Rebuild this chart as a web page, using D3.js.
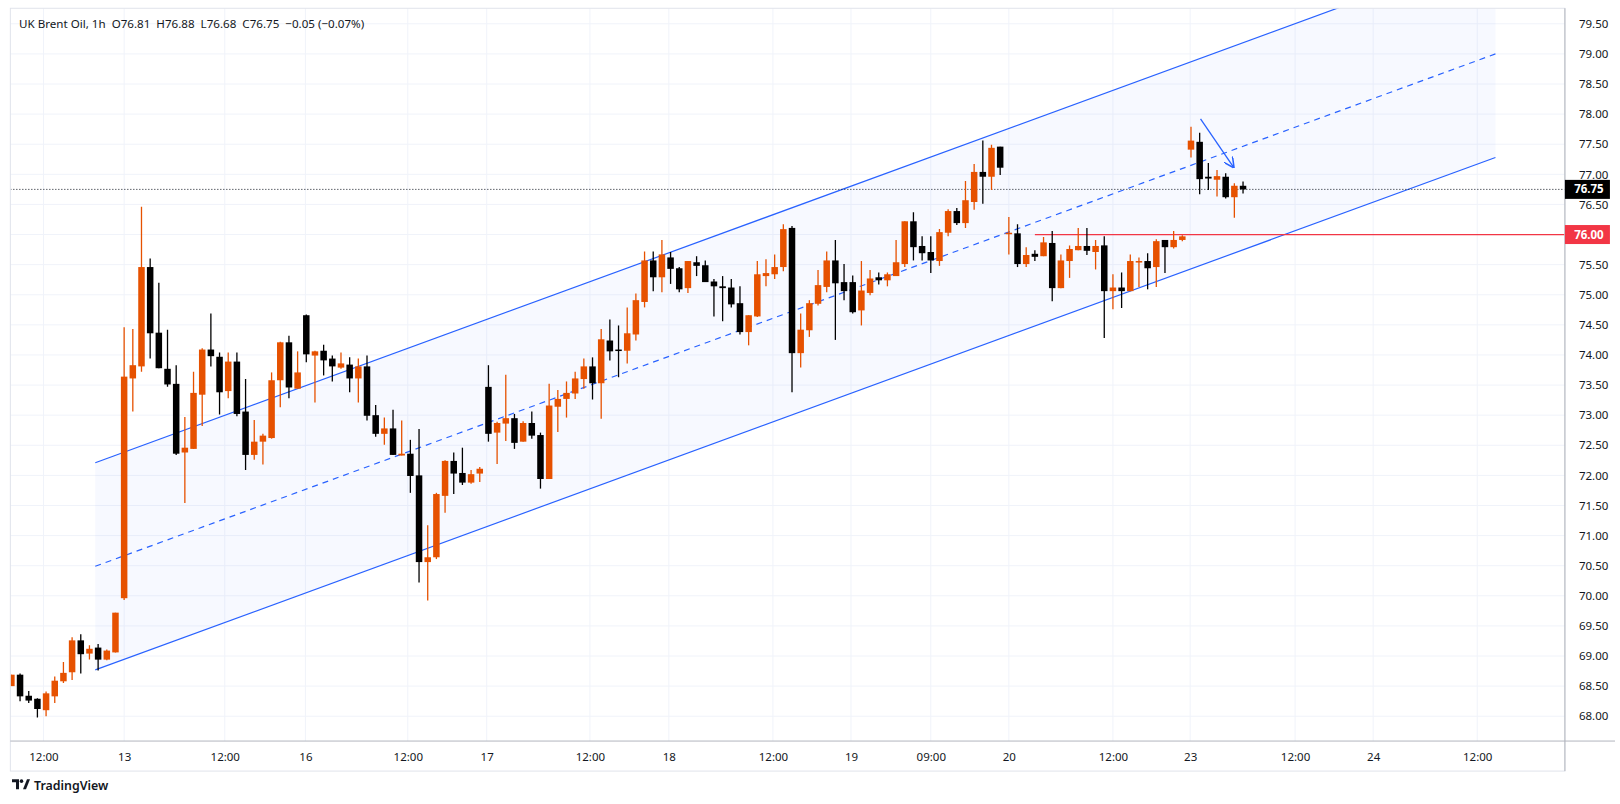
<!DOCTYPE html>
<html>
<head>
<meta charset="utf-8">
<script src="https://cdn.jsdelivr.net/npm/d3@7"></script>
<style>
  body { margin: 0; background: #fff; }
  text { font-family: "Noto Sans", Roboto, sans-serif; }
</style>
</head>
<body>
<svg id="chart" width="1620" height="804"></svg>
<script>
// hourly candles, index 0..142
let open = [68.50,68.69,68.34,68.29,68.10,68.33,68.58,68.73,69.26,69.04,
  69.14,68.94,69.06,69.96,73.61,73.81,75.46,74.37,73.77,73.52,
  72.38,72.44,73.34,74.09,73.97,73.40,73.89,73.06,72.34,72.56,
  72.62,73.58,74.21,73.44,74.66,73.99,74.07,73.94,73.79,73.84,
  73.61,73.81,73.00,72.69,72.78,72.33,72.36,72.00,70.56,70.64,
  71.66,72.24,72.04,71.88,72.03,73.47,72.71,72.86,72.95,72.56,
  72.87,72.67,71.94,73.14,73.27,73.36,73.60,73.81,73.53,74.24,
  74.09,74.07,74.34,74.88,75.57,75.29,75.62,75.44,75.11,75.54,
  75.49,75.22,75.14,75.12,74.86,74.38,74.64,75.31,75.34,75.46,
  76.11,74.03,74.41,74.85,75.13,75.57,75.21,75.21,74.74,75.03,
  75.29,75.24,75.31,75.51,76.22,75.81,75.71,75.56,76.03,76.39,
  76.19,76.54,77.04,76.96,77.46,76.02,76.02,75.51,75.68,75.64,
  75.86,75.11,75.56,75.74,75.81,75.71,75.82,75.06,75.12,75.06,
  75.54,75.56,75.46,75.91,75.79,75.91,77.41,77.54,76.96,76.91,
  76.96,76.62,76.81]
let high = [68.69,68.71,68.42,68.30,68.41,68.66,68.90,69.31,69.36,69.18,
  69.20,69.11,69.72,74.46,74.43,76.46,75.60,75.20,74.42,73.83,
  72.97,73.72,74.11,74.69,74.04,74.04,74.04,73.60,72.92,72.69,
  73.71,74.22,74.32,74.06,74.67,74.07,74.17,73.99,74.04,73.96,
  73.94,73.99,73.17,72.96,73.09,72.91,72.59,72.77,71.17,71.71,
  72.25,72.38,72.46,72.09,72.14,73.83,72.89,73.67,73.02,72.90,
  73.06,72.71,73.52,73.42,73.56,73.72,73.94,73.96,74.43,74.59,
  74.49,74.79,75.02,75.72,75.72,75.91,75.71,75.46,75.56,75.64,
  75.57,75.26,75.31,75.26,75.14,74.66,75.56,75.59,75.67,76.17,
  76.14,74.69,74.91,75.41,75.72,75.91,75.51,75.32,75.56,75.41,
  75.37,75.37,75.91,76.22,76.37,75.97,75.97,76.09,76.42,76.44,
  76.89,77.17,77.56,77.49,77.46,76.29,76.17,75.79,75.74,75.96,
  76.06,75.67,75.82,76.11,76.11,75.91,75.97,75.34,75.37,75.67,
  75.62,75.69,75.92,75.91,76.06,75.99,77.79,77.69,77.19,77.07,
  77.02,76.85,76.88]
let low = [68.50,68.25,68.22,67.98,68.00,68.22,68.55,68.60,68.71,68.94,
  68.76,68.93,69.06,69.93,73.06,73.72,73.94,73.78,73.47,72.34,
  71.54,72.44,72.82,73.81,73.01,73.28,72.98,72.09,72.26,72.18,
  72.61,73.13,73.28,73.44,73.88,73.21,73.66,73.56,73.77,73.38,
  73.21,72.91,72.64,72.51,72.34,72.33,71.71,70.22,69.92,70.61,
  71.38,71.69,71.84,71.86,71.89,72.56,72.19,72.57,72.44,72.56,
  72.61,71.78,71.94,72.72,72.96,73.27,73.44,73.26,72.94,73.91,
  73.63,73.86,74.24,74.79,75.06,75.04,75.18,75.04,75.03,75.31,
  75.21,74.64,74.56,74.79,74.34,74.16,74.63,75.14,75.26,75.39,
  73.38,73.79,74.30,74.82,75.04,74.25,74.91,74.69,74.49,74.99,
  75.17,75.14,75.31,75.46,75.57,75.57,75.36,75.48,75.97,76.16,
  76.11,76.41,76.51,76.74,76.99,75.67,75.46,75.46,75.56,75.64,
  74.89,75.11,75.28,75.74,75.66,75.42,74.28,74.76,74.78,75.06,
  75.13,75.09,75.13,75.36,75.77,75.89,77.28,76.67,76.74,76.63,
  76.60,76.28,76.68]
let close = [68.69,68.33,68.26,68.12,68.38,68.59,68.72,69.26,69.03,69.12,
  68.94,69.09,69.72,73.64,73.83,75.46,74.36,73.78,73.51,72.36,
  72.46,73.37,74.09,73.98,73.38,73.89,73.02,72.34,72.56,72.66,
  73.58,74.21,73.46,73.71,74.01,74.06,73.91,73.81,73.86,73.61,
  73.81,72.99,72.69,72.78,72.34,72.36,71.99,70.56,70.64,71.69,
  72.24,72.03,71.88,72.02,72.11,72.69,72.87,72.95,72.54,72.87,
  72.66,71.94,73.16,73.27,73.37,73.61,73.81,73.53,74.26,74.06,
  74.08,74.36,74.91,75.57,75.29,75.67,75.43,75.09,75.56,75.48,
  75.21,75.14,75.11,74.84,74.38,74.66,75.34,75.36,75.46,76.09,
  74.03,74.42,74.86,75.16,75.57,75.19,75.06,74.71,75.07,75.27,
  75.24,75.34,75.54,76.22,75.79,75.69,75.57,76.04,76.39,76.19,
  76.57,77.04,76.96,77.44,77.11,76.03,75.51,75.66,75.63,75.87,
  75.11,75.57,75.76,75.81,75.73,75.81,75.06,75.12,75.06,75.56,
  75.56,75.44,75.89,75.79,75.91,75.97,77.56,76.92,76.93,76.97,
  76.62,76.81,76.75]

let price_ticks = d3.range(68, 79.51, 0.5)
let time_ticks = [3.7, 13, 24.6, 33.9, 45.7, 54.8, 66.7, 75.8, 87.8, 96.8, 106, 115, 127, 135.9, 148, 157, 169]
let time_labels = ["12:00","13","12:00","16","12:00","17","12:00","18","12:00","19","09:00","20","12:00","23","12:00","24","12:00"]

// channel drawing: [start index, start price, end index, end price]
let channel_upper = [9.67, 72.21, 171.1, 80.72]
let channel_mid = [9.67, 70.49, 171.1, 79.00]
let channel_lower = [9.67, 68.77, 171.1, 77.28]
let level_line = [118, 76.00]
let last_price = 76.75
let arrow = [137.1, 77.92, 140.9, 77.12]

let up_color = "#e65100"
let down_color = "#000000"
let blue = "#2962ff"

// whole layout is scaled a bit to fill the page
let k = 1.035
let pane = {left: 10, right: 1512, top: 8, bottom: 716}
let svg = d3.select("#chart")
let root = svg.append("g")

let x = d3.scaleLinear().domain([0, 142]).range([11, 1201].map(v => v * k))
let y = d3.scaleLinear().domain([68, 79.5]).range([692, 23].map(v => v * k))
pane = {left: pane.left * k, right: pane.right * k, top: pane.top * k, bottom: pane.bottom * k}
let foot = 745 * k

root.append("clipPath").attr("id", "clip")
  .append("rect")
    .attr("x", pane.left).attr("y", pane.top)
    .attr("width", pane.right - pane.left).attr("height", pane.bottom - pane.top)

// grid
let grid = root.append("g")
grid.selectAll(".hg").data(price_ticks).enter().append("line")
  .attr("x1", pane.left).attr("x2", pane.right)
  .attr("y1", d => y(d)).attr("y2", d => y(d))
  .attr("stroke", "#f0f3fa")
grid.selectAll(".vg").data(time_ticks).enter().append("line")
  .attr("x1", d => x(d)).attr("x2", d => x(d))
  .attr("y1", pane.top).attr("y2", pane.bottom)
  .attr("stroke", "#f0f3fa")

let plot = root.append("g").attr("clip-path", "url(#clip)")

// channel fill
let fill_pts = [
  [channel_upper[0], channel_upper[1]], [channel_upper[2], channel_upper[3]],
  [channel_lower[2], channel_lower[3]], [channel_lower[0], channel_lower[1]]
]
plot.append("path")
  .attr("d", d3.line().x(d => x(d[0])).y(d => y(d[1]))(fill_pts) + "Z")
  .attr("fill", "rgba(41,98,255,0.04)")

function draw_line(c, dash){
  plot.append("line")
    .attr("x1", x(c[0])).attr("y1", y(c[1]))
    .attr("x2", x(c[2])).attr("y2", y(c[3]))
    .attr("stroke", blue).attr("stroke-width", 1.2)
    .attr("stroke-dasharray", dash ? "6,5" : null)
}
draw_line(channel_upper, false)
draw_line(channel_mid, true)
draw_line(channel_lower, false)

// last price dotted line
plot.append("line")
  .attr("x1", pane.left).attr("x2", pane.right)
  .attr("y1", y(last_price)).attr("y2", y(last_price))
  .attr("stroke", "#131722").attr("stroke-dasharray", "1,2")

// horizontal level
plot.append("line")
  .attr("x1", x(level_line[0])).attr("x2", pane.right)
  .attr("y1", y(level_line[1])).attr("y2", y(level_line[1]))
  .attr("stroke", "#f23645").attr("stroke-width", 1.2)

// candles
let idx = d3.range(open.length)
let bw = 6.5
plot.selectAll(".wick").data(idx).enter().append("line")
  .attr("x1", i => x(i)).attr("x2", i => x(i))
  .attr("y1", i => y(high[i])).attr("y2", i => y(low[i]))
  .attr("stroke", i => close[i] >= open[i] ? up_color : down_color)
  .attr("stroke-width", 1.3)
plot.selectAll(".body").data(idx).enter().append("rect")
  .attr("x", i => x(i) - bw / 2)
  .attr("width", bw)
  .attr("y", i => y(Math.max(open[i], close[i])))
  .attr("height", i => Math.max(1.5, Math.abs(y(open[i]) - y(close[i]))))
  .attr("fill", i => close[i] >= open[i] ? up_color : down_color)

// arrow
svg.append("defs").append("marker")
  .attr("id", "head").attr("viewBox", "0 0 10 10")
  .attr("refX", 9).attr("refY", 5)
  .attr("markerWidth", 8).attr("markerHeight", 8)
  .attr("orient", "auto")
  .append("path").attr("d", "M0,0 L10,5 L0,10").attr("fill", "none").attr("stroke", blue).attr("stroke-width", 1.5)
plot.append("line")
  .attr("x1", x(arrow[0])).attr("y1", y(arrow[1]))
  .attr("x2", x(arrow[2])).attr("y2", y(arrow[3]))
  .attr("stroke", blue).attr("stroke-width", 1.3)
  .attr("marker-end", "url(#head)")

// frames
root.append("rect")
  .attr("x", pane.left).attr("y", pane.top)
  .attr("width", pane.right - pane.left).attr("height", foot - pane.top)
  .attr("fill", "none").attr("stroke", "#e0e3eb")
root.append("line").attr("x1", pane.left).attr("x2", 1615)
  .attr("y1", pane.bottom).attr("y2", pane.bottom).attr("stroke", "#b2b5be")
root.append("line").attr("x1", pane.right).attr("x2", pane.right)
  .attr("y1", pane.top).attr("y2", foot).attr("stroke", "#b2b5be")

// price axis (76.00 is covered by its tag)
let axis_ticks = price_ticks.filter(d => d !== level_line[1])
let y_axis = root.append("g")
  .attr("transform", "translate(" + (pane.right + 7) + ",0)")
  .call(d3.axisRight(y).tickValues(axis_ticks).tickFormat(d3.format(".2f")).tickSize(0))
y_axis.select(".domain").remove()
y_axis.selectAll("text").attr("font-size", 11.5).attr("fill", "#131722").attr("dx", 4)

// time axis
let x_axis = root.append("g")
  .attr("transform", "translate(0," + (pane.bottom + 9) + ")")
  .call(d3.axisBottom(x).tickValues(time_ticks).tickFormat((d, i) => time_labels[i]).tickSize(0))
x_axis.select(".domain").remove()
x_axis.selectAll("text").attr("font-size", 11.5).attr("fill", "#131722")

// price tags
function tag(p, color){
  let g = root.append("g").attr("transform", "translate(" + pane.right + "," + y(p) + ")")
  g.append("rect").attr("x", 0).attr("y", -9.5).attr("width", 45).attr("height", 19).attr("fill", color)
  g.append("text").attr("x", 24).attr("y", 4).attr("text-anchor", "middle")
    .attr("font-size", 11.5).attr("font-weight", "bold").attr("fill", "#fff")
    .text(d3.format(".2f")(p))
}
tag(last_price, "#000")
tag(level_line[1], "#f23645")

// legend
root.append("text").attr("x", 19).attr("y", 28)
  .attr("font-size", 11.6).attr("fill", "#131722")
  .attr("xml:space", "preserve")
  .text("UK Brent Oil, 1h  O76.81  H76.88  L76.68  C76.75  \u22120.05 (\u22120.07%)")

// logo
let logo = root.append("g").attr("transform", "translate(12," + (753 * k) + ")")
logo.append("path").attr("d", "M0,0 H7 V10 H4 V3 H0 Z").attr("fill", "#131722")
logo.append("circle").attr("cx", 9.5).attr("cy", 1.8).attr("r", 1.8).attr("fill", "#131722")
logo.append("path").attr("d", "M11,10 L15,0 H18 L14,10 Z").attr("fill", "#131722")
root.append("text").attr("x", 34).attr("y", 763 * k)
  .attr("font-size", 12.4).attr("font-weight", "600").attr("fill", "#131722")
  .text("TradingView")
</script>
</body>
</html>
